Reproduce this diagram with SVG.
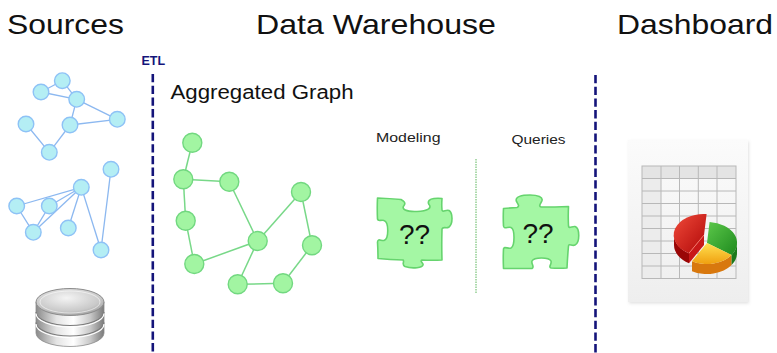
<svg xmlns="http://www.w3.org/2000/svg" width="777" height="353" viewBox="0 0 777 353">
  <defs>
    <style>
      .title { font-family: "Liberation Sans", Arial, sans-serif; font-size: 28px; fill: #111; }
      .sub { font-family: "Liberation Sans", Arial, sans-serif; font-size: 13.5px; fill: #222; }
      .etl { font-family: "Liberation Sans", Arial, sans-serif; font-size: 12.5px; font-weight: bold; fill: #14147a; }
      .sep { stroke: #14147a; stroke-width: 2.6; stroke-dasharray: 8.3 3.4; fill: none; }
      .bedge { stroke: #8cb8f0; stroke-width: 1.3; fill: none; }
      .bnode { fill: #b4eef4; stroke: #8ec2f6; stroke-width: 1.4; }
      .gedge { stroke: #78d888; stroke-width: 1.5; fill: none; }
      .gnode { fill: #a2f5a2; stroke: #72d880; stroke-width: 1.4; }
      .piece { fill: #a4f7a4; stroke: #66d46e; stroke-width: 1.6; stroke-linejoin: round; }
      .qq { font-family: "Liberation Sans", Arial, sans-serif; font-size: 28px; fill: #111; text-anchor: middle; }
      .grid { stroke: #b8b8b8; stroke-width: 1; fill: none; }
    </style>
    <linearGradient id="dbSide" x1="0" y1="0" x2="1" y2="0">
      <stop offset="0" stop-color="#8a8a8a"/>
      <stop offset="0.3" stop-color="#e4e4e4"/>
      <stop offset="0.55" stop-color="#ffffff"/>
      <stop offset="0.8" stop-color="#c8c8c8"/>
      <stop offset="1" stop-color="#7a7a7a"/>
    </linearGradient>
    <radialGradient id="dbTop" cx="0.45" cy="0.35" r="0.7">
      <stop offset="0" stop-color="#f4f4f4"/>
      <stop offset="0.7" stop-color="#c9c9c9"/>
      <stop offset="1" stop-color="#9a9a9a"/>
    </radialGradient>
    <linearGradient id="page" x1="0" y1="0" x2="0" y2="1">
      <stop offset="0" stop-color="#fbfbfb"/>
      <stop offset="1" stop-color="#eeeeee"/>
    </linearGradient>
    <linearGradient id="redG" x1="0" y1="0" x2="1" y2="1">
      <stop offset="0" stop-color="#f04a3a"/>
      <stop offset="1" stop-color="#b00808"/>
    </linearGradient>
    <linearGradient id="greenG" x1="0" y1="0" x2="1" y2="1">
      <stop offset="0" stop-color="#5cc84a"/>
      <stop offset="1" stop-color="#1e8a1e"/>
    </linearGradient>
    <linearGradient id="yelG" x1="0" y1="0" x2="0" y2="1">
      <stop offset="0" stop-color="#ffe050"/>
      <stop offset="1" stop-color="#f0a010"/>
    </linearGradient>
    <filter id="soft" x="-10%" y="-10%" width="120%" height="120%">
      <feGaussianBlur stdDeviation="1.5"/>
    </filter>
  </defs>

  <rect width="777" height="353" fill="#ffffff"/>

  <!-- section headings -->
  <g id="headings">
    <text class="title" x="7" y="34" textLength="117" lengthAdjust="spacingAndGlyphs">Sources</text>
    <text class="title" x="256" y="34" textLength="240" lengthAdjust="spacingAndGlyphs">Data Warehouse</text>
    <text class="title" x="617" y="34" textLength="156" lengthAdjust="spacingAndGlyphs">Dashboard</text>
  </g>

  <!-- boundaries -->
  <g id="boundaries">
    <text class="etl" x="141.5" y="65">ETL</text>
    <line class="sep" x1="152.8" y1="74" x2="152.8" y2="353"/>
    <line class="sep" x1="595.5" y1="75" x2="595.5" y2="353"/>
    <line x1="476" y1="159" x2="476" y2="293" stroke="#5ab55a" stroke-width="1" stroke-dasharray="1.5 1"/>
  </g>

  <!-- source graph 1 -->
  <g id="source-graph-1">
    <g class="connectors">
      <line class="bedge" x1="62.3" y1="80.7" x2="41" y2="92"/>
      <line class="bedge" x1="41" y1="92" x2="76.7" y2="99.3"/>
      <line class="bedge" x1="62.3" y1="80.7" x2="76.7" y2="99.3"/>
      <line class="bedge" x1="76.7" y1="99.3" x2="70" y2="125"/>
      <line class="bedge" x1="76.7" y1="99.3" x2="117.3" y2="119.3"/>
      <line class="bedge" x1="70" y1="125" x2="117.3" y2="119.3"/>
      <line class="bedge" x1="70" y1="125" x2="49.3" y2="152.3"/>
      <line class="bedge" x1="26" y1="124" x2="49.3" y2="152.3"/>
    </g>
    <circle class="bnode" cx="62.3" cy="80.7" r="7.8"/>
    <circle class="bnode" cx="41" cy="92" r="7.8"/>
    <circle class="bnode" cx="76.7" cy="99.3" r="7.8"/>
    <circle class="bnode" cx="26" cy="124" r="7.8"/>
    <circle class="bnode" cx="70" cy="125" r="7.8"/>
    <circle class="bnode" cx="117.3" cy="119.3" r="7.8"/>
    <circle class="bnode" cx="49.3" cy="152.3" r="7.8"/>
  </g>

  <!-- source graph 2 -->
  <g id="source-graph-2">
    <g class="connectors">
      <line class="bedge" x1="81.3" y1="187.3" x2="16.7" y2="206"/>
      <line class="bedge" x1="81.3" y1="187.3" x2="49.3" y2="206"/>
      <line class="bedge" x1="81.3" y1="187.3" x2="33.3" y2="232.3"/>
      <line class="bedge" x1="81.3" y1="187.3" x2="68.3" y2="228"/>
      <line class="bedge" x1="81.3" y1="187.3" x2="101" y2="250"/>
      <line class="bedge" x1="111" y1="169.3" x2="101" y2="250"/>
      <line class="bedge" x1="16.7" y1="206" x2="33.3" y2="232.3"/>
      <line class="bedge" x1="49.3" y1="206" x2="33.3" y2="232.3"/>
    </g>
    <circle class="bnode" cx="111" cy="169.3" r="7.8"/>
    <circle class="bnode" cx="81.3" cy="187.3" r="7.8"/>
    <circle class="bnode" cx="16.7" cy="206" r="7.8"/>
    <circle class="bnode" cx="49.3" cy="206" r="7.8"/>
    <circle class="bnode" cx="33.3" cy="232.3" r="7.8"/>
    <circle class="bnode" cx="68.3" cy="228" r="7.8"/>
    <circle class="bnode" cx="101" cy="250" r="7.8"/>
  </g>

  <!-- database stack -->
  <g id="database">
    <path d="M36,302 V333 A34,13.5 0 0 0 104,333 V302 Z" fill="url(#dbSide)" stroke="#8a8a8a" stroke-width="0.8"/>
    <path d="M36,312 A34,13.5 0 0 0 104,312" fill="none" stroke="#7a7a7a" stroke-width="1.2"/>
    <path d="M36,313.5 A34,13.5 0 0 0 104,313.5" fill="none" stroke="#ffffff" stroke-width="1.2"/>
    <path d="M36,322.5 A34,13.5 0 0 0 104,322.5" fill="none" stroke="#7a7a7a" stroke-width="1.2"/>
    <path d="M36,324 A34,13.5 0 0 0 104,324" fill="none" stroke="#ffffff" stroke-width="1.2"/>
    <ellipse cx="70" cy="302" rx="34" ry="13.5" fill="url(#dbTop)" stroke="#8c8c8c" stroke-width="1"/>
    <ellipse cx="70" cy="302" rx="30" ry="11" fill="none" stroke="#ffffff" stroke-width="0.8" opacity="0.7"/>
  </g>

  <!-- aggregated graph -->
  <g id="aggregated-graph">
    <text class="title" x="170.5" y="98.5" style="font-size:20px" textLength="183" lengthAdjust="spacingAndGlyphs">Aggregated Graph</text>
    <g class="connectors">
      <line class="gedge" x1="192.3" y1="142.7" x2="183.3" y2="179.3"/>
      <line class="gedge" x1="183.3" y1="179.3" x2="229.3" y2="181.7"/>
      <line class="gedge" x1="183.3" y1="179.3" x2="185.7" y2="220.7"/>
      <line class="gedge" x1="185.7" y1="220.7" x2="194.3" y2="264"/>
      <line class="gedge" x1="194.3" y1="264" x2="257.7" y2="241"/>
      <line class="gedge" x1="229.3" y1="181.7" x2="257.7" y2="241"/>
      <line class="gedge" x1="257.7" y1="241" x2="301" y2="192"/>
      <line class="gedge" x1="257.7" y1="241" x2="237.7" y2="284.3"/>
      <line class="gedge" x1="237.7" y1="284.3" x2="283" y2="283.3"/>
      <line class="gedge" x1="283" y1="283.3" x2="312" y2="245.3"/>
      <line class="gedge" x1="312" y1="245.3" x2="301" y2="192"/>
    </g>
    <circle class="gnode" cx="192.3" cy="142.7" r="9.5"/>
    <circle class="gnode" cx="183.3" cy="179.3" r="9.5"/>
    <circle class="gnode" cx="229.3" cy="181.7" r="9.5"/>
    <circle class="gnode" cx="185.7" cy="220.7" r="9.5"/>
    <circle class="gnode" cx="194.3" cy="264" r="9.5"/>
    <circle class="gnode" cx="257.7" cy="241" r="9.5"/>
    <circle class="gnode" cx="301" cy="192" r="9.5"/>
    <circle class="gnode" cx="312" cy="245.3" r="9.5"/>
    <circle class="gnode" cx="237.7" cy="284.3" r="9.5"/>
    <circle class="gnode" cx="283" cy="283.3" r="9.5"/>
  </g>

  <!-- modeling piece -->
  <g id="modeling">
    <text class="sub" x="376" y="141.5" textLength="64.5" lengthAdjust="spacingAndGlyphs">Modeling</text>
    <path class="piece" d="M377.5,198 Q390,198.5 401,199.5 C404,201 406,203 404,205.5 C401,209 406,212 417,211.5 C428,211 432,208 429,204.5 C427,201 430,199 434,198.5 Q438,198 442,198.5 Q441.5,205 442,210 C443,213 446,209 449,210.5 C453,213 453,224 449,227 C446,229 443,226 442,229 Q441.5,245 442,260 Q432,260.5 422,260 C420,261 422,262 423,264 C424,268 412,269 405,266.5 C401,264.5 405,261.5 403,260 Q390,259.5 378,258.5 Q378,250 377.5,242 C378,238 381,241 384,240.5 C389,239 389,222 384,220.5 C381,219.5 378,222 377.5,219 Q377,208 377.5,198 Z"/>
    <text class="qq" x="414.5" y="243.5">??</text>
  </g>

  <!-- queries piece -->
  <g id="queries">
    <text class="sub" x="511.5" y="143.5" textLength="54" lengthAdjust="spacingAndGlyphs">Queries</text>
    <path class="piece" d="M503.5,208.5 Q510,208 517,207.5 C520,206.5 518,204 516.5,201.5 C514.5,196.5 522,195 530,195 C538,195 543,197 542,200.5 C541,203.5 538,206 541,207 Q555,207 568.5,206.5 Q568,216 568.5,226 C569,229 572,226 575,226.5 C580,228 580,243 575,245 C572,246.5 569,243 568.5,246 Q567.5,257 567,268 Q559,268.5 551,268 C548,267 552,264 551,261 C549,257 534,257 532,261 C531,264 535,267 532,268.5 Q518,268.5 503.5,268.5 Q503,258 503.5,249 C504,246 508,249 511,248 C515,246 515,229 511,227.5 C508,226.5 504,229.5 503.5,226 Q503,217 503.5,208.5 Z"/>
    <text class="qq" x="538" y="243">??</text>
  </g>

  <!-- dashboard sheet with pie chart -->
  <g id="dashboard">
    <rect x="629" y="141.5" width="120" height="162" fill="#cfcfcf" opacity="0.6" filter="url(#soft)"/>
    <rect x="628" y="140" width="120" height="162" fill="url(#page)"/>
    <rect x="642" y="166" width="94" height="12.5" fill="#e4e4e4"/>
    <rect x="642" y="178.5" width="19" height="100" fill="#ececec"/>
    <g class="grid">
      <rect x="642" y="166" width="94" height="112.5"/>
      <line x1="661" y1="166" x2="661" y2="278.5"/>
      <line x1="679.5" y1="166" x2="679.5" y2="278.5"/>
      <line x1="698.3" y1="166" x2="698.3" y2="278.5"/>
      <line x1="717" y1="166" x2="717" y2="278.5"/>
      <line x1="642" y1="178.5" x2="736" y2="178.5"/>
      <line x1="642" y1="191" x2="736" y2="191"/>
      <line x1="642" y1="203.5" x2="736" y2="203.5"/>
      <line x1="642" y1="216" x2="736" y2="216"/>
      <line x1="642" y1="228.5" x2="736" y2="228.5"/>
      <line x1="642" y1="241" x2="736" y2="241"/>
      <line x1="642" y1="253.5" x2="736" y2="253.5"/>
      <line x1="642" y1="266" x2="736" y2="266"/>
    </g>
    <!-- pie: side walls first, then top faces -->
    <path d="M731.6,255 A30,21 0 0 1 692,261.2 L692,271.2 A30,21 0 0 0 731.6,265 Z" fill="#d8780e"/>
    <path d="M737,243 A30,21 0 0 1 731.6,255 L731.6,265 A30,21 0 0 0 737,253 Z" fill="#1c7a1c"/>
    <path d="M707,243 L709.6,222 A30,21 0 0 1 731.6,255 Z" fill="url(#greenG)"/>
    <path d="M707,243 L731.6,255 A30,21 0 0 1 692,261.2 Z" fill="url(#yelG)"/>
    <path d="M674,235 A30,21 0 0 0 689,253.2 L689,263.2 A30,21 0 0 1 674,245 Z" fill="#9a0606"/>
    <path d="M704,235 L689,253.2 L689,263.2 L704,245 Z" fill="#c81818"/>
    <path d="M704,235 L706.6,214 A30,21 0 0 0 689,253.2 Z" fill="url(#redG)"/>
    <path d="M704,235 L689,253.2" stroke="#ff8a7a" stroke-width="1" opacity="0.7"/>
  </g>
</svg>
